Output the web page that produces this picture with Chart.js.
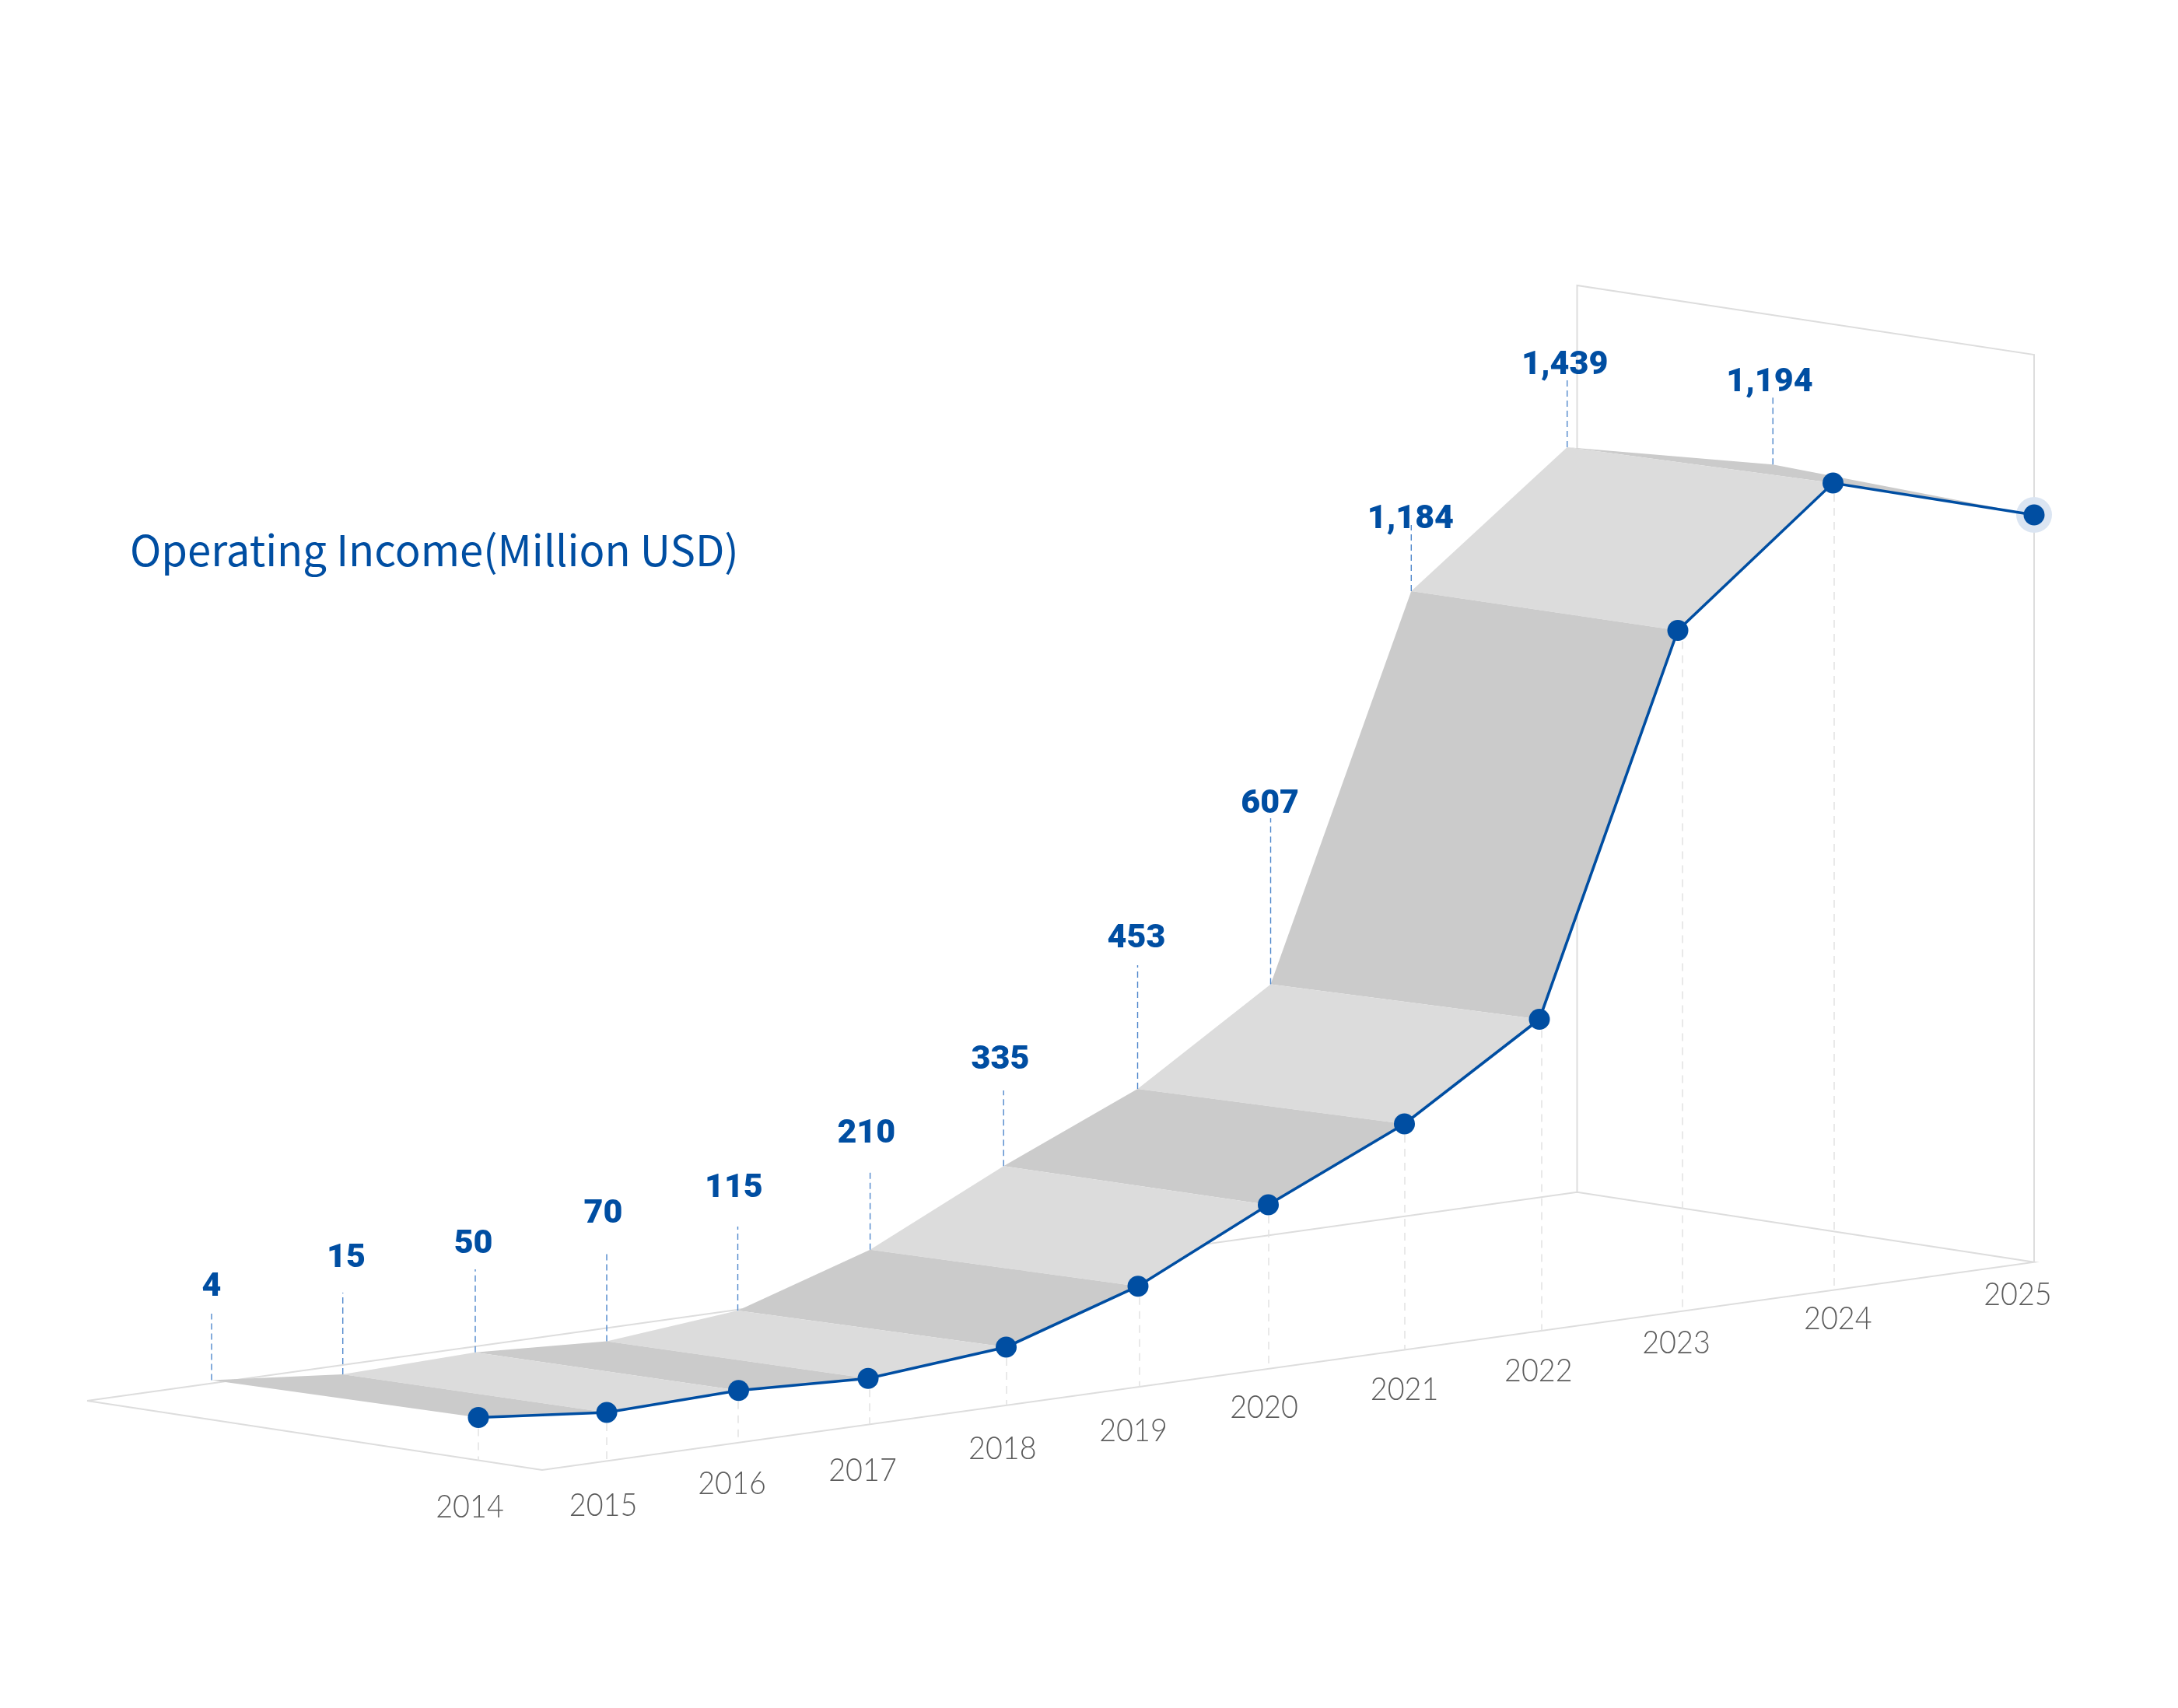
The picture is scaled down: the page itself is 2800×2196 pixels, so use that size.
<!DOCTYPE html>
<html>
<head>
<meta charset="utf-8">
<script src="https://cdn.jsdelivr.net/npm/chart.js@4"></script>
<style>html,body{margin:0;padding:0;background:#fff}canvas{display:block}</style>
</head>
<body>
<canvas id="c" width="2800" height="2196"></canvas>
<script>
// ---- chart data ----
const years = ['2014','2015','2016','2017','2018','2019','2020','2021','2022','2023','2024','2025'];
const operatingIncome = [4,15,50,70,115,210,335,453,607,1184,1439,1194];

// ---- view: how the drawing projects years and values on its oblique plane ----
const markerStation = [615,780,949.5,1116,1293.5,1463,1630.5,1805.5,1979,2157,2356.5,2615];
const floorStation  = [615,780,949,1118,1294,1465,1631,1806,1982,2163,2358,2615];
const liftPerMillion = [19.725,4.162,1.3422,0.8477,0.6512,0.6167,0.6296,0.6413,0.6603,0.7399,0.7211,0.8046];
const depthX = [-343,-339.3,-338.5,-336,-345,-344.4,-340.3,-343,-345.5,-342.7,-341.8,-335.8];
const depthY = [-48,-49,-49,-47.8,-47,-47,-49.7,-45,-45,-50.4,-46,-64.7];
const guideTop = [1689,1662,1632,1609,1577,1504,1402,1241,1052,675,489,509];
const valueLabelX = [272,445,608.6,775.5,943.4,1113.8,1286,1461,1632.6,1813.4,2011.7,2275];
const valueLabelBase = [1665.5,1628.5,1610.5,1571.5,1539.2,1469.2,1373.5,1218,1045,679,481,503];
const yearLabelX = [604,775.6,941,1109,1288.8,1457,1625,1805.6,1977.8,2155,2362.8,2593.9];
const yearLabelBase = [1950.7,1949,1921,1904,1875.7,1852.7,1823,1800,1775.7,1740,1709,1677.7];

const floorCorners = {left:[112,1801], front:[697,1890], right:[2615,1622.7], back:[2027.5,1532.7]};
const wallTop = {back:367, right:456};

const BLUE = '#004ea2', LIGHT = '#dcdcdc', DARK = '#cbcbcb', FRAME = '#dddddd';

function pt(a){ return {x:a[0], y:a[1]}; }
const fc = floorCorners;
function floorY(x){
  const k = (fc.right[1]-fc.front[1])/(fc.right[0]-fc.front[0]);
  return fc.front[1] + (x-fc.front[0])*k;
}
function edgeFloorY(x){
  if (x >= fc.front[0]) return floorY(x);
  const k = (fc.front[1]-fc.left[1])/(fc.front[0]-fc.left[0]);
  return fc.left[1] + (x-fc.left[0])*k;
}
const front = operatingIncome.map((v,i)=>({
  x: markerStation[i],
  y: floorY(markerStation[i]) - v*liftPerMillion[i]
}));
const back = front.map((p,i)=>({x:p.x+depthX[i], y:p.y+depthY[i]}));

const datasets = [];
// frame
datasets.push({label:'frame',data:[pt(fc.left),pt(fc.front),pt(fc.right),pt(fc.back),pt(fc.left)],
  borderColor:FRAME,borderWidth:2,pointRadius:0,fill:false,order:100});
datasets.push({label:'wall',data:[pt(fc.back),{x:fc.back[0],y:wallTop.back},{x:fc.right[0],y:wallTop.right},pt(fc.right)],
  borderColor:FRAME,borderWidth:2,pointRadius:0,fill:false,order:99});
// floor guides
const drops=[];
front.forEach((p,i)=>{
  if(i===11) return;
  drops.push({x:floorStation[i],y:p.y+14},{x:floorStation[i],y:edgeFloorY(floorStation[i])},{x:null,y:null});
});
datasets.push({label:'floor guides',data:drops,borderColor:'#e4e4e4',borderWidth:1.6,borderDash:[10,8],pointRadius:0,fill:false,order:90});
// ribbon
for(let i=0;i<years.length-1;i++){
  datasets.push({label:'band '+years[i],
    data:[back[i],back[i+1],front[i+1],front[i]],
    borderWidth:0,borderColor:'transparent',pointRadius:0,
    backgroundColor:(i%2===0)?DARK:LIGHT,fill:'shape',order:(i===years.length-2)?81:80});
}
// value guides
const ups=[];
back.forEach((p,i)=>{ ups.push({x:p.x,y:p.y},{x:p.x,y:guideTop[i]},{x:null,y:null}); });
datasets.push({label:'value guides',data:ups,borderColor:'#5088cc',borderWidth:1.4,borderDash:[8,5],pointRadius:0,fill:false,order:70});
// halo
datasets.push({label:'latest',data:[front[11]],showLine:false,pointRadius:23,pointBorderWidth:0,
  pointBackgroundColor:'#dbe5f2',order:60});
// main line
datasets.push({label:'Operating Income',data:front,borderColor:BLUE,borderWidth:3.6,fill:false,
  pointRadius:13.5,pointBorderWidth:0,pointBackgroundColor:BLUE,order:50});

const labelsPlugin = {
  id:'chartText',
  afterDatasetsDraw(chart){
    const {ctx,scales:{x,y}} = chart;
    ctx.save();
    ctx.textBaseline='alphabetic';
    ctx.textAlign='center';
    ctx.fillStyle=BLUE;
    ctx.font='900 43px Roboto';
    operatingIncome.forEach((v,i)=>{
      ctx.fillText(v.toLocaleString('en-US'),x.getPixelForValue(valueLabelX[i]),y.getPixelForValue(valueLabelBase[i]));
    });
    ctx.fillStyle='#5c5c5c';
    ctx.font='300 41px Lato';
    years.forEach((t,i)=>{
      ctx.save();
      ctx.translate(x.getPixelForValue(yearLabelX[i]),y.getPixelForValue(yearLabelBase[i]));
      ctx.scale(0.92,1);
      ctx.fillText(t,0,0);
      ctx.restore();
    });
    ctx.textAlign='left';
    ctx.fillStyle=BLUE;
    ctx.font='400 54.4px "Noto Sans CJK KR"';
    ctx.fillText('Operating Income(Million USD)',x.getPixelForValue(167),y.getPixelForValue(728));
    ctx.restore();
  }
};

new Chart(document.getElementById('c'),{
  type:'line',
  data:{datasets},
  options:{
    responsive:false,animation:false,devicePixelRatio:1,
    layout:{padding:0,autoPadding:false},
    elements:{line:{tension:0}},
    parsing:{xAxisKey:'x',yAxisKey:'y'},
    scales:{
      x:{type:'linear',min:0,max:2800,display:false},
      y:{type:'linear',min:0,max:2196,reverse:true,display:false}
    },
    plugins:{legend:{display:false},tooltip:{enabled:false},title:{display:false}}
  },
  plugins:[labelsPlugin]
});
</script>
</body>
</html>
